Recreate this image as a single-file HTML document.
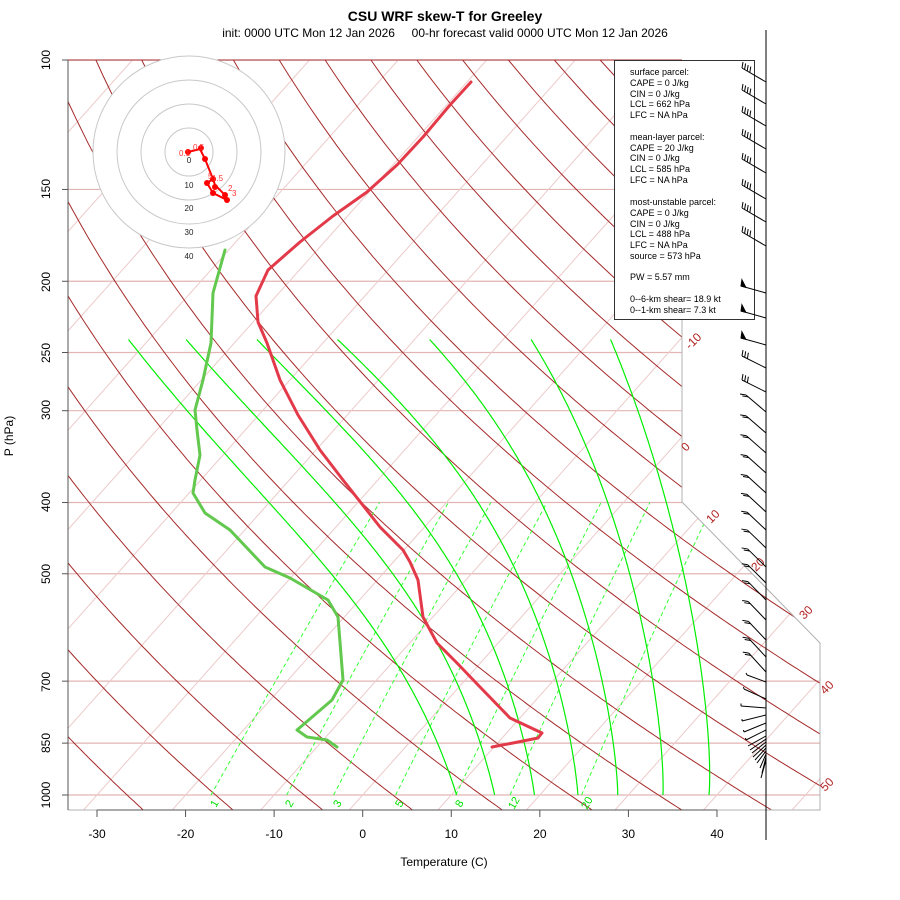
<!DOCTYPE html>
<html><head><meta charset="utf-8"><style>
html,body{margin:0;padding:0;background:#fff;}
svg{display:block;font-family:"Liberation Sans",sans-serif;}
</style></head><body>
<svg id="s" width="900" height="900" viewBox="0 0 900 900" xmlns="http://www.w3.org/2000/svg">
<defs><clipPath id="cp"><polygon points="68,60 682,60 682,502 820,643 820,810 68,810"/></clipPath></defs>
<rect width="900" height="900" fill="#fff"/>
<g id="grid" clip-path="url(#cp)"></g>
<polyline points="682,60 682,502 820,643 820,810 68,810" fill="none" stroke="#b0b0b0" stroke-width="1"/>
<line x1="68" y1="60" x2="682" y2="60" stroke="#a52a2a" stroke-width="1"/>
<line x1="68" y1="60" x2="68" y2="810" stroke="#555" stroke-width="1"/>
<g id="traces"></g>
<g>
<circle cx="189" cy="152" r="96" fill="#fff" stroke="#c8c8c8"/>
<circle cx="189" cy="152" r="72" fill="none" stroke="#c8c8c8"/>
<circle cx="189" cy="152" r="48" fill="none" stroke="#c8c8c8"/>
<circle cx="189" cy="152" r="24" fill="none" stroke="#c8c8c8"/>
<g font-size="8" fill="#222" text-anchor="middle">
<text x="189" y="163">0</text><text x="189" y="188">10</text><text x="189" y="211">20</text><text x="189" y="235">30</text><text x="189" y="259">40</text></g>
<polyline points="188,152 200,149 205,159 213,179 207,183 213,193 227,200 225,195 215,185 213,179" fill="none" stroke="#f00" stroke-width="2"/>
<g fill="#f00"><circle cx="188" cy="152" r="3"/><circle cx="201" cy="148" r="3"/><circle cx="205" cy="159" r="3"/><circle cx="213" cy="179" r="3"/><circle cx="207" cy="183" r="3"/><circle cx="213" cy="193" r="3"/><circle cx="227" cy="200" r="3"/><circle cx="225" cy="195" r="3"/><circle cx="215" cy="187" r="3"/></g>
<g font-size="8" fill="#f33"><text x="179" y="156">0.1</text><text x="193" y="150">0.5</text><text x="212" y="181">1.5</text><text x="228" y="191">2</text><text x="232" y="196">3</text><text x="208" y="179">5</text></g>
</g>
<rect x="614.5" y="60.5" width="140" height="259" fill="#fff" stroke="#333"/>
<g font-size="9" fill="#000" xml:space="preserve">
<text x="630" y="75">surface parcel:</text><text x="630" y="86">CAPE = 0 J/kg</text><text x="630" y="97">CIN = 0 J/kg</text><text x="630" y="107">LCL = 662 hPa</text><text x="630" y="118">LFC = NA hPa</text>
<text x="630" y="140">mean-layer parcel:</text><text x="630" y="151">CAPE = 20 J/kg</text><text x="630" y="161">CIN = 0 J/kg</text><text x="630" y="172">LCL = 585 hPa</text><text x="630" y="183">LFC = NA hPa</text>
<text x="630" y="205">most-unstable parcel:</text><text x="630" y="216">CAPE = 0 J/kg</text><text x="630" y="227">CIN = 0 J/kg</text><text x="630" y="237">LCL = 488 hPa</text><text x="630" y="248">LFC = NA hPa</text><text x="630" y="259">source = 573 hPa</text>
<text x="630" y="280">PW =  5.57 mm</text>
<text x="630" y="302">0--6-km shear= 18.9 kt</text><text x="630" y="313">0--1-km shear= 7.3 kt</text>
</g>
<g font-size="12" fill="#b22222">
<text transform="translate(690,350) rotate(-45)">-10</text>
<text transform="translate(686,452) rotate(-45)">0</text>
<text transform="translate(711,524) rotate(-45)">10</text>
<text transform="translate(756,572) rotate(-45)">20</text>
<text transform="translate(804,620) rotate(-45)">30</text>
<text transform="translate(825,695) rotate(-45)">40</text>
<text transform="translate(825,792) rotate(-45)">50</text>
</g>
<g font-size="11" fill="#00e000">
<text transform="translate(216,808) rotate(-60)">1</text>
<text transform="translate(291,808) rotate(-60)">2</text>
<text transform="translate(339,808) rotate(-60)">3</text>
<text transform="translate(401,808) rotate(-60)">5</text>
<text transform="translate(461,808) rotate(-60)">8</text>
<text transform="translate(514,810) rotate(-60)">12</text>
<text transform="translate(587,810) rotate(-60)">20</text>
</g>
<line x1="766" y1="30" x2="766" y2="840" stroke="#000"/>
<g id="barbs" stroke="#000" stroke-width="1" fill="none"></g>
<text x="445" y="21" font-size="14" font-weight="bold" text-anchor="middle">CSU WRF skew-T for Greeley</text>
<text x="445" y="37" font-size="12" text-anchor="middle" xml:space="preserve">init: 0000 UTC Mon 12 Jan 2026     00-hr forecast valid 0000 UTC Mon 12 Jan 2026</text>
<text transform="translate(13,436) rotate(-90)" font-size="12" text-anchor="middle">P (hPa)</text>
<text x="444" y="866" font-size="12" text-anchor="middle">Temperature (C)</text>
<g font-size="12" text-anchor="middle">
<text transform="translate(50,60) rotate(-90)">100</text>
<text transform="translate(50,189) rotate(-90)">150</text>
<text transform="translate(50,282) rotate(-90)">200</text>
<text transform="translate(50,353) rotate(-90)">250</text>
<text transform="translate(50,410) rotate(-90)">300</text>
<text transform="translate(50,502) rotate(-90)">400</text>
<text transform="translate(50,574) rotate(-90)">500</text>
<text transform="translate(50,682) rotate(-90)">700</text>
<text transform="translate(50,743) rotate(-90)">850</text>
<text transform="translate(50,795) rotate(-90)">1000</text>
</g>
<g font-size="12" text-anchor="middle">
<text x="97" y="838">-30</text><text x="185.6" y="838">-20</text><text x="274.1" y="838">-10</text><text x="362.7" y="838">0</text><text x="451.3" y="838">10</text><text x="539.9" y="838">20</text><text x="628.4" y="838">30</text><text x="717" y="838">40</text>
</g>
<g id="ticks" stroke="#555"></g>
</svg>
<script>
(function(){
var NS="http://www.w3.org/2000/svg";
function el(parent,tag,attrs){var e=document.createElementNS(NS,tag);for(var k in attrs)e.setAttribute(k,attrs[k]);parent.appendChild(e);return e;}
function Y(p){return 795+319.2*Math.log(p/1000);}
function X(T,p){var yd=132.182-44.061*Math.log10(p);return 362.7+16.4*(0.54*T+0.90692*yd);}
var g=document.getElementById('grid');
function poly(pts,attrs){attrs.points=pts.map(function(a){return a[0].toFixed(1)+','+a[1].toFixed(1);}).join(' ');attrs.fill='none';el(g,'polyline',attrs);}
[100,150,200,250,300,400,500,700,850,1000].forEach(function(p){el(g,'line',{x1:68,x2:820,y1:Y(p),y2:Y(p),stroke:'#e2b4b4','stroke-width':1.2});});
for(var T=-150;T<=60;T+=10){el(g,'line',{x1:X(T,1060),y1:Y(1060),x2:X(T,95),y2:Y(95),stroke:'#edcaca','stroke-width':1});}
for(var th=-40;th<=220;th+=10){var pts=[];for(var p=1060;p>=95;p-=5){var Tk=(th+3.4+273.15)*Math.pow(p/1000,0.286);pts.push([X(Tk-273.15,p),Y(p)]);}poly(pts,{stroke:'#a52a2a','stroke-width':1});}
[1,2,3,5,8,12,20].forEach(function(w){var pts=[];for(var p=1000;p>=400;p-=10){var e=w*p/(622+w);var l=Math.log(e/6.112);var Td=243.5*l/(17.67-l);pts.push([X(Td,p),Y(p)]);}poly(pts,{stroke:'#33ff33','stroke-width':1,'stroke-dasharray':'4,3'});});
function es(Tc){return 6.112*Math.exp(17.67*Tc/(Tc+243.5));}
function dTdp(Tk,p){var Tc=Tk-273.15;var e=es(Tc);var rs=0.622*e/(p-e);var Lv=2.5e6,Rd=287,cp=1005;return (1/p)*(Rd*Tk+Lv*rs)/(cp+Lv*Lv*rs*0.622/(Rd*Tk*Tk));}
var offs=[-22,-35,-53,-88,-112,-131,-150];
var L0=Math.log(1000/240);
[10.6,14.9,19.4,24.3,28.8,33.9,39.1].forEach(function(T0,i){var Tk=T0+273.15,p=1000,pts=[[X(T0,1000),Y(1000)]];var dp=-2;while(p>240){var k1=dTdp(Tk,p),k2=dTdp(Tk+k1*dp/2,p+dp/2),k3=dTdp(Tk+k2*dp/2,p+dp/2),k4=dTdp(Tk+k3*dp,p+dp);Tk+=dp*(k1+2*k2+2*k3+k4)/6;p+=dp;var f=Math.pow(Math.log(1000/p)/L0,1.4);pts.push([X(Tk-273.15,p)+offs[i]*f,Y(p)]);}poly(pts,{stroke:'#00ee00','stroke-width':1.2});});
var tr=document.getElementById('traces');
function tpoly(s,c){el(tr,'polyline',{points:s,fill:'none',stroke:c,'stroke-width':3,'stroke-linejoin':'round','stroke-linecap':'round'});}
tpoly("471,82 450,105 423,137 397,165 367,192 333,216 300,242 268,270 256,296 258,322 267,343 280,380 298,415 320,450 343,480 380,527 403,550 410,562 418,580 423,617 437,643 457,663 480,687 510,718 542,733 538,738 513,743 492,747","#e33a4a");
tpoly("225,250 213,293 211,343 203,380 195,410 197,430 200,455 195,480 193,493 205,513 230,530 265,567 290,578 328,600 338,617 343,680 332,700 297,730 307,737 327,740 337,747","#62c84e");
var tk=document.getElementById('ticks');
[100,150,200,250,300,400,500,700,850,1000].forEach(function(p){el(tk,'line',{x1:62,x2:68,y1:Y(p),y2:Y(p)});});
for(var t=-30;t<=40;t+=10){var x=362.7+8.857*t;el(tk,'line',{x1:x,x2:x,y1:810,y2:817});}
el(tk,'line',{x1:97,x2:717,y1:810,y2:810});
var b=document.getElementById('barbs');
function barb(y,dx,dy,n,fx,fy,pen,half){var tx=766+dx,ty=y+dy;el(b,'line',{x1:766,y1:y,x2:tx,y2:ty});var L=Math.sqrt(dx*dx+dy*dy),ux=dx/L,uy=dy/L;
 var start=0;if(pen){el(b,'polygon',{points:tx+','+ty+' '+(tx-ux*5)+','+(ty-uy*5)+' '+(tx+fx*0.9)+','+(ty+fy*0.9),fill:'#000'});start=1;}
 for(var i=0;i<n;i++){var sx=tx-ux*(3*(i+start)),sy=ty-uy*(3*(i+start));el(b,'line',{x1:sx,y1:sy,x2:sx+fx,y2:sy+fy});}
 if(half){var sx=tx-ux*(3*(n+start)),sy=ty-uy*(3*(n+start));el(b,'line',{x1:sx,y1:sy,x2:sx+fx/2,y2:sy+fy/2});}}
[82,104,126,149,173,199,222,246].forEach(function(y){barb(y,-24,-14,4,1,-6,false,false);});
[293,318,345].forEach(function(y){barb(y,-25,-7,0,1,-7,true,false);});
[368,392].forEach(function(y){barb(y,-24,-12,3,1,-6,false,false);});
var ys=[412,433,453,473,493,512,530,548,567,583,600,620,640,657,672];
ys.forEach(function(y,i){var f=i/ys.length;barb(y,-20+3*f,-17-2*f,2,-6,-1,false,false);});
barb(682,-19,-7,0,-2,-4,false,true);
barb(699,-22,-10,0,-1,-4,false,true);
barb(708,-25,-2,0,0,-5,false,true);
barb(715,-24,6,0,0,-4,false,true);
barb(723,-22,9,0,-1,-4,false,true);
barb(730,-20,10,0,-1,-4,false,true);
[[736,748,746],[739,750,750],[742,752,753],[745,753,757],[748,755,760],[751,757,763],[754,760,768],[757,762,773],[760,761,778]].forEach(function(a){el(b,'line',{x1:766,y1:a[0],x2:a[1],y2:a[2]});});
})();
</script>
</body></html>
